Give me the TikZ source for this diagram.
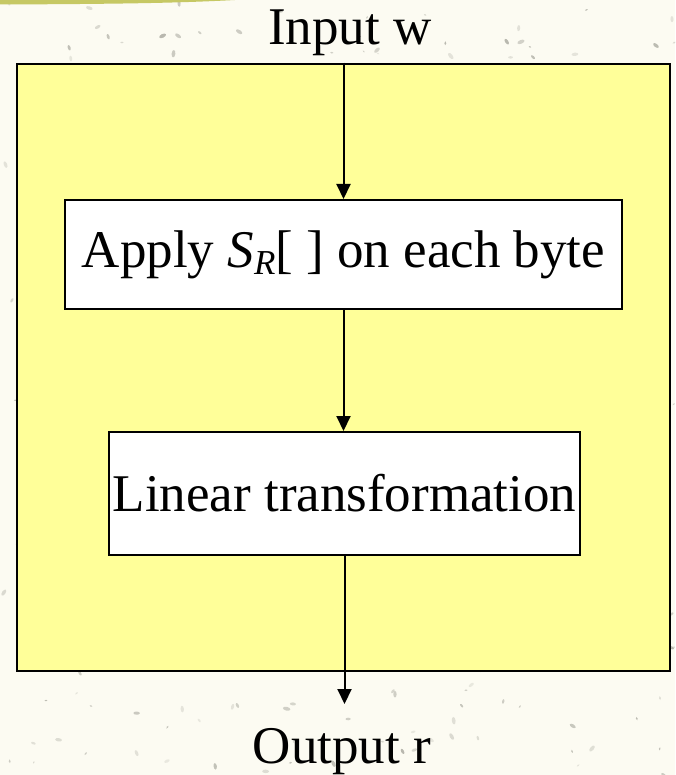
\documentclass[tikz,border=0pt]{standalone}
\usepackage{fontspec}
\setmainfont{Liberation Serif}
\usetikzlibrary{arrows.meta}
\definecolor{paper}{RGB}{252,251,242}
\definecolor{speck}{RGB}{130,130,120}
\definecolor{panel}{RGB}{255,255,153}
\definecolor{olive}{RGB}{198,200,100}
\tikzset{
  big/.style={font=\fontsize{53}{60}\selectfont},
  panelbox/.style={draw=black,line width=2.5pt,fill=panel,inner sep=0pt},
  stagebox/.style={draw=black,line width=2pt,fill=white,inner sep=0pt,big},
  flow/.style={line width=2pt,-{Triangle[length=15pt,width=14pt]}},
}
\begin{document}
\begin{tikzpicture}[x=1pt,y=-1pt]
  % page and speckled paper
  \fill[paper] (0,0) rectangle (675,775);
  \useasboundingbox (0,0) rectangle (675,775);
  \pgfmathsetseed{42}
  \foreach \k in {1,...,420}{
    \pgfmathsetmacro{\px}{675*rnd}
    \pgfmathsetmacro{\py}{775*rnd}
    \pgfmathsetmacro{\pr}{0.8+1.6*rnd}
    \pgfmathsetmacro{\pa}{180*rnd}
    \pgfmathsetmacro{\po}{0.15+0.4*rnd}
    \fill[speck,opacity=\po,rotate around={\pa:(\px,\py)}]
      (\px,\py) ellipse [x radius=\pr*1.6,y radius=\pr*0.8];
  }
  % olive band along the top edge
  \fill[olive] (0,0) -- (235,0) .. controls (180,3) and (120,4) .. (0,4.5) -- cycle;

  % outer panel
  \node[panelbox,minimum width=653pt,minimum height=607pt] (outer) at (343.5,367.5) {};

  % stages
  \node[stagebox,minimum width=557pt,minimum height=109pt] (sbox) at (343.5,254.5)
    {Apply {\itshape S}\raisebox{-7pt}{\fontsize{35}{40}\selectfont\itshape R}[ ] on each byte};
  \node[stagebox,minimum width=471pt,minimum height=123pt] (lin) at (344.5,493.5)
    {Linear transformation};

  % labels
  \node[big,anchor=base,inner sep=0pt] (inw) at (350,45) {Input w};
  \node[big,anchor=base,inner sep=0pt] (outr) at (342,763) {Output r};
  \coordinate (outend) at (344.5,704);

  % connectors
  \draw[flow] (outer.north) -- (sbox.north);
  \draw[flow] (sbox.south) -- (sbox.south |- lin.north);
  \draw[flow] (lin.south) -- (outend);
\end{tikzpicture}
\end{document}
